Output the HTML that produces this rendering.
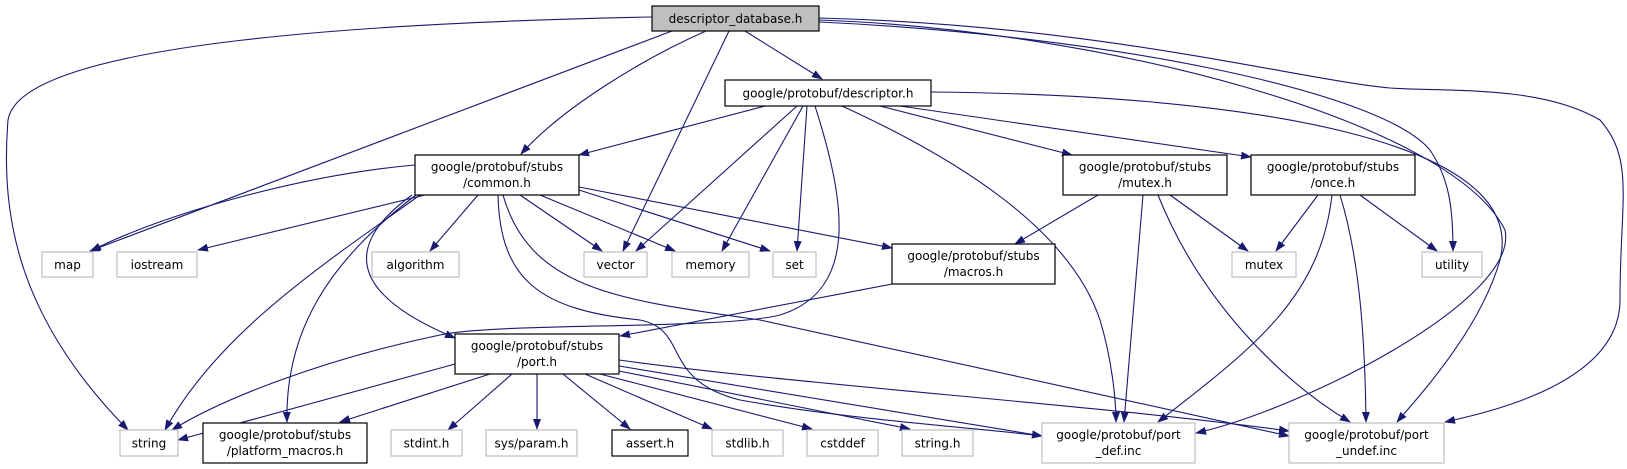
<!DOCTYPE html>
<html><head><meta charset="utf-8"><style>
html,body{margin:0;padding:0;background:#fff;}
svg{display:block;}
text{font-family:"DejaVu Sans","Liberation Sans",sans-serif;font-size:12px;fill:#000;text-anchor:middle;}
.e{fill:none;stroke:#191970;stroke-width:1.1;marker-end:url(#a);}
.n{fill:#fff;stroke:#000;stroke-width:1.2;}
.g{fill:#fff;stroke:#bfbfbf;stroke-width:1.2;}
</style></head><body>
<svg width="1627" height="469" viewBox="0 0 1627 469" xmlns="http://www.w3.org/2000/svg">
<defs><marker id="a" markerWidth="11" markerHeight="8" refX="10" refY="4" orient="auto" markerUnits="userSpaceOnUse"><path d="M0,0 L11,4 L0,8 z" fill="#191970"/></marker></defs>
<!-- edges from DB -->
<path class="e" d="M652,17 C400,22 20,40 8,120 C0,220 20,320 128,430"/>
<path class="e" d="M672,31 L90,251"/>
<path class="e" d="M706,31 C640,60 560,110 521,154"/>
<path class="e" d="M729,31 L623,251"/>
<path class="e" d="M745,31 L822,79"/>
<path class="e" d="M819,22 C1100,35 1380,90 1430,150 C1450,180 1453,210 1453,251"/>
<path class="e" d="M819,20 C1100,30 1450,120 1505,230 C1520,300 1300,410 1196,433"/>
<path class="e" d="M819,18 C1100,25 1300,80 1390,88 C1450,92 1540,85 1600,120 C1635,160 1620,200 1620,300 C1620,380 1500,410 1445,422"/>
<!-- from DESC -->
<path class="e" d="M765,106 L579,155"/>
<path class="e" d="M797,106 L636,251"/>
<path class="e" d="M803,106 L722,251"/>
<path class="e" d="M807,106 L797,251"/>
<path class="e" d="M815,106 C845,200 860,290 780,315 C720,330 500,322 440,335 C320,360 220,400 172,430"/>
<path class="e" d="M842,106 C960,160 1070,230 1100,320 C1112,360 1116,400 1116,422"/>
<path class="e" d="M880,106 L1072,155"/>
<path class="e" d="M900,106 L1251,157"/>
<path class="e" d="M931,92 C1250,95 1530,140 1500,260 C1480,330 1420,395 1397,422"/>
<!-- from COMMON -->
<path class="e" d="M415,165 C300,175 160,215 91,251"/>
<path class="e" d="M425,195 L198,250"/>
<path class="e" d="M478,195 L430,251"/>
<path class="e" d="M520,195 L602,251"/>
<path class="e" d="M540,195 L675,251"/>
<path class="e" d="M579,190 L770,251"/>
<path class="e" d="M579,187 L892,248"/>
<path class="e" d="M420,195 C330,260 220,330 165,430"/>
<path class="e" d="M416,195 C330,260 285,330 287,422"/>
<path class="e" d="M412,195 C350,240 340,290 455,338"/>
<path class="e" d="M498,195 C500,280 540,310 640,320 C690,330 660,380 740,400 C850,420 1000,430 1042,436"/>
<path class="e" d="M503,195 C530,290 620,300 760,320 L1289,436"/>
<!-- from MUTEXH -->
<path class="e" d="M1098,195 L1015,244"/>
<path class="e" d="M1143,195 L1124,422"/>
<path class="e" d="M1158,195 C1200,300 1280,380 1350,422"/>
<path class="e" d="M1170,195 L1248,251"/>
<!-- from ONCE -->
<path class="e" d="M1318,195 L1276,251"/>
<path class="e" d="M1332,195 C1320,300 1250,350 1158,422"/>
<path class="e" d="M1340,195 C1360,260 1365,340 1366,422"/>
<path class="e" d="M1360,195 L1437,251"/>
<!-- from MACROS -->
<path class="e" d="M892,284 L620,336"/>
<!-- from PORT -->
<path class="e" d="M455,364 L178,440"/>
<path class="e" d="M490,374 L340,422"/>
<path class="e" d="M512,374 L448,430"/>
<path class="e" d="M537,374 L537,429"/>
<path class="e" d="M563,374 L630,429"/>
<path class="e" d="M585,374 L712,429"/>
<path class="e" d="M600,374 L812,429"/>
<path class="e" d="M614,370 L910,429"/>
<path class="e" d="M619,366 L1042,436"/>
<path class="e" d="M619,360 C800,385 1100,405 1289,431"/>
<!-- nodes -->
<rect x="652" y="6" width="167" height="25" fill="#bfbfbf" stroke="#000" stroke-width="1.2"/><text x="735.5" y="23">descriptor_database.h</text>
<rect class="n" x="725" y="80" width="206" height="26"/><text x="828" y="97.5">google/protobuf/descriptor.h</text>
<rect class="n" x="415" y="155" width="164" height="40"/><text x="497" y="171">google/protobuf/stubs</text><text x="497" y="187">/common.h</text>
<rect class="n" x="1063" y="155" width="164" height="40"/><text x="1145" y="171">google/protobuf/stubs</text><text x="1145" y="187">/mutex.h</text>
<rect class="n" x="1251" y="155" width="164" height="40"/><text x="1333" y="171">google/protobuf/stubs</text><text x="1333" y="187">/once.h</text>
<rect class="g" x="42" y="252" width="51" height="25"/><text x="67.5" y="269">map</text>
<rect class="g" x="117" y="252" width="80" height="25"/><text x="157" y="269">iostream</text>
<rect class="g" x="372" y="252" width="87" height="25"/><text x="415.5" y="269">algorithm</text>
<rect class="g" x="584" y="252" width="63" height="25"/><text x="615.5" y="269">vector</text>
<rect class="g" x="672" y="252" width="77" height="25"/><text x="710.5" y="269">memory</text>
<rect class="g" x="773" y="252" width="43" height="25"/><text x="794.5" y="269">set</text>
<rect class="n" x="892" y="244" width="163" height="40"/><text x="973.5" y="260">google/protobuf/stubs</text><text x="973.5" y="276">/macros.h</text>
<rect class="g" x="1232" y="252" width="64" height="25"/><text x="1264" y="269">mutex</text>
<rect class="g" x="1422" y="252" width="60" height="25"/><text x="1452" y="269">utility</text>
<rect class="n" x="455" y="334" width="164" height="40"/><text x="537" y="350">google/protobuf/stubs</text><text x="537" y="366">/port.h</text>
<rect class="g" x="120" y="430" width="58" height="26"/><text x="149" y="447.5">string</text>
<rect class="n" x="203" y="423" width="164" height="40"/><text x="285" y="439">google/protobuf/stubs</text><text x="285" y="455">/platform_macros.h</text>
<rect class="g" x="391" y="430" width="71" height="26"/><text x="426.5" y="447.5">stdint.h</text>
<rect class="g" x="486" y="430" width="91" height="26"/><text x="531.5" y="447.5">sys/param.h</text>
<rect class="n" x="612" y="430" width="76" height="26"/><text x="650" y="447.5">assert.h</text>
<rect class="g" x="712" y="430" width="71" height="26"/><text x="747.5" y="447.5">stdlib.h</text>
<rect class="g" x="807" y="430" width="71" height="26"/><text x="842.5" y="447.5">cstddef</text>
<rect class="g" x="902" y="430" width="71" height="26"/><text x="937.5" y="447.5">string.h</text>
<rect class="g" x="1042" y="423" width="153" height="40"/><text x="1118.5" y="439">google/protobuf/port</text><text x="1118.5" y="455">_def.inc</text>
<rect class="g" x="1289" y="423" width="155" height="40"/><text x="1366.5" y="439">google/protobuf/port</text><text x="1366.5" y="455">_undef.inc</text>
</svg>
</body></html>
